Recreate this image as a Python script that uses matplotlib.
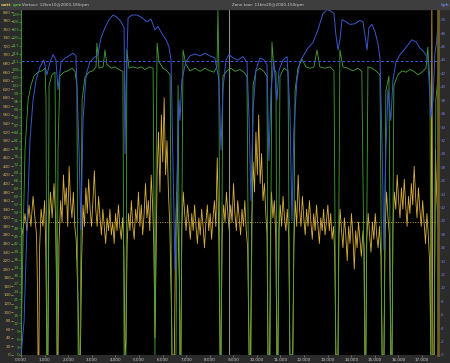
import matplotlib
matplotlib.use('Agg')
import matplotlib.pyplot as plt
from matplotlib.patches import Rectangle

# (distance km, speed kph)
speed = [
    (0.00, 0), (0.13, 5), (0.25, 18.7), (0.38, 32), (0.51, 38), (0.64, 41), (0.81, 43), (0.97, 44), (1.10, 41.8), (1.23, 43.7),
    (1.36, 44.8), (1.48, 44), (1.57, 39.6), (1.70, 43.7), (1.87, 44.3), (2.03, 44.6), (2.20, 45), (2.33, 44.6), (2.46, 30.6), (2.54, 18.7),
    (2.63, 35), (2.76, 41.8), (2.92, 43.7), (3.09, 44.3), (3.26, 44.8), (3.39, 47.3), (3.56, 48.8), (3.73, 50), (3.90, 50.7), (4.07, 50.4),
    (4.24, 49.7), (4.37, 48.8), (4.41, 30), (4.45, 40), (4.54, 50.3), (4.71, 50.7), (4.92, 50.7), (5.13, 50.3), (5.34, 49.7), (5.51, 50.1),
    (5.68, 48.5), (5.81, 49), (5.98, 47.9), (6.15, 47), (6.27, 46), (6.36, 44), (6.44, 29.1), (6.53, 12.7), (6.61, 26), (6.70, 38),
    (6.74, 35), (6.82, 41), (6.99, 43.7), (7.16, 44.6), (7.38, 44.9), (7.59, 44.6), (7.80, 45), (8.01, 44.6), (8.22, 44.3), (8.39, 41),
    (8.48, 30.6), (8.56, 39.6), (8.69, 44), (8.82, 44.8), (8.99, 44.3), (9.20, 44), (9.41, 44.5), (9.58, 43.7), (9.67, 35), (9.75, 23),
    (9.84, 36.6), (9.96, 42.5), (10.13, 44.3), (10.30, 44), (10.43, 43.3), (10.51, 29), (10.60, 39.6), (10.72, 43.7), (10.85, 38), (10.94, 42.5),
    (11.11, 44), (11.28, 44.5), (11.40, 36.6), (11.49, 20), (11.57, 33.6), (11.70, 41), (11.83, 43.7), (12.00, 44.8), (12.17, 45.8), (12.38, 46.6),
    (12.59, 48.5), (12.80, 50.9), (12.97, 51.5), (13.14, 51.3), (13.27, 50.9), (13.35, 47.8), (13.44, 45.5), (13.52, 47), (13.61, 50), (13.78, 49.7),
    (13.95, 49.3), (14.16, 49.4), (14.37, 49.9), (14.50, 49.7), (14.58, 47.8), (14.67, 45.5), (14.75, 48.8), (14.88, 49.3), (15.01, 48.2), (15.14, 46.3),
    (15.22, 44.3), (15.31, 30.6), (15.39, 15.7), (15.47, 30.6), (15.56, 39.6), (15.68, 35), (15.77, 41), (15.90, 43.7), (16.07, 44.8), (16.24, 45.5),
    (16.41, 46.3), (16.58, 47), (16.75, 46.7), (16.91, 45.8), (17.08, 45.2), (17.25, 44.3), (17.34, 38), (17.38, 35.4), (17.47, 38), (17.55, 45),
    (17.63, 47), (17.68, 49.5),
]

# (distance km, cadence rpm)
cadence = [
    (0.00, 0), (0.08, 40), (0.17, 77.6), (0.30, 96.5), (0.42, 102), (0.55, 105.5), (0.72, 107), (0.89, 107.5), (1.02, 108.5), (1.06, 96.5),
    (1.10, 0), (1.14, 0), (1.19, 102), (1.31, 106), (1.44, 107), (1.53, 0), (1.57, 77.6), (1.65, 105.5), (1.82, 107), (1.99, 107.5),
    (2.16, 108.5), (2.29, 107.3), (2.37, 102), (2.42, 0), (2.50, 0), (2.59, 96.5), (2.71, 105), (2.88, 107), (3.05, 107.5), (3.18, 109),
    (3.22, 118), (3.31, 108.5), (3.48, 109), (3.56, 115.4), (3.64, 110), (3.82, 108.5), (3.98, 109), (4.15, 108), (4.32, 107.3), (4.37, 0),
    (4.45, 0), (4.49, 115.4), (4.58, 108.5), (4.75, 109), (4.92, 108.5), (5.09, 109), (5.26, 108), (5.43, 109), (5.60, 108.5), (5.68, 0),
    (5.72, 58.6), (5.77, 118), (5.85, 111), (6.02, 108.5), (6.19, 107.5), (6.32, 106), (6.40, 0), (6.57, 0), (6.66, 102), (6.74, 0),
    (6.78, 0), (6.87, 115.4), (6.99, 110), (7.16, 107.5), (7.38, 108.5), (7.59, 107.3), (7.80, 108.5), (8.01, 107.5), (8.18, 107), (8.31, 109),
    (8.35, 130.5), (8.39, 109), (8.44, 0), (8.48, 0), (8.56, 105.5), (8.73, 107.5), (8.90, 108.5), (9.07, 107.3), (9.28, 108), (9.45, 107),
    (9.58, 105.5), (9.67, 0), (9.75, 0), (9.84, 102), (9.96, 107.5), (10.13, 108.5), (10.30, 107.3), (10.43, 105.5), (10.47, 0), (10.56, 0),
    (10.64, 118.4), (10.72, 108.5), (10.81, 107), (10.85, 0), (10.90, 0), (10.98, 105.5), (11.15, 108.5), (11.32, 107.5), (11.40, 0), (11.53, 0),
    (11.62, 100), (11.74, 108.5), (11.91, 112), (12.08, 109), (12.25, 108.5), (12.42, 109), (12.55, 115.4), (12.67, 109), (12.89, 108.5), (13.10, 109),
    (13.27, 107.5), (13.35, 0), (13.44, 0), (13.52, 115.4), (13.65, 109), (13.86, 108.5), (14.07, 107.5), (14.28, 108.5), (14.45, 107.3), (14.58, 0),
    (14.62, 0), (14.71, 109), (14.88, 108.5), (15.05, 107.5), (15.22, 106), (15.31, 0), (15.39, 0), (15.47, 100), (15.60, 105.5), (15.68, 0),
    (15.73, 0), (15.81, 102), (15.98, 106), (16.15, 107.5), (16.32, 107), (16.49, 108), (16.66, 107.3), (16.83, 106), (17.00, 107), (17.17, 108.5),
    (17.25, 116.5), (17.34, 102), (17.38, 0), (17.51, 0), (17.59, 96.5), (17.68, 105.5),
]

# (distance km, power watt)
power = [
    (0.00, 0), (0.04, 280), (0.10, 300), (0.17, 330), (0.25, 290), (0.34, 350), (0.42, 300), (0.51, 370), (0.59, 320), (0.66, 280),
    (0.70, 150), (0.72, 0), (0.76, 0), (0.79, 250), (0.85, 340), (0.93, 300), (1.00, 360), (1.05, 250), (1.10, 0), (1.14, 0),
    (1.18, 300), (1.25, 380), (1.32, 320), (1.40, 400), (1.46, 330), (1.51, 150), (1.53, 0), (1.57, 0), (1.61, 260), (1.68, 360),
    (1.74, 310), (1.80, 420), (1.86, 350), (1.92, 390), (1.98, 300), (2.04, 440), (2.10, 360), (2.16, 320), (2.22, 380), (2.28, 300),
    (2.34, 270), (2.42, 120), (2.46, 0), (2.52, 0), (2.57, 220), (2.63, 350), (2.69, 300), (2.75, 390), (2.81, 330), (2.87, 410),
    (2.93, 340), (2.99, 300), (3.05, 360), (3.11, 430), (3.17, 340), (3.23, 300), (3.29, 370), (3.35, 320), (3.41, 280), (3.47, 340),
    (3.53, 300), (3.59, 260), (3.65, 320), (3.71, 290), (3.77, 340), (3.83, 280), (3.89, 310), (3.95, 260), (4.01, 330), (4.07, 290),
    (4.13, 350), (4.19, 300), (4.25, 270), (4.31, 320), (4.36, 250), (4.41, 0), (4.45, 30), (4.50, 260), (4.56, 330), (4.62, 290),
    (4.68, 360), (4.74, 300), (4.80, 270), (4.86, 340), (4.92, 310), (4.98, 380), (5.04, 300), (5.10, 350), (5.16, 280), (5.22, 330),
    (5.28, 400), (5.34, 320), (5.40, 360), (5.46, 290), (5.52, 420), (5.58, 350), (5.63, 260), (5.68, 40), (5.72, 200), (5.77, 420),
    (5.83, 520), (5.89, 380), (5.95, 560), (6.01, 450), (6.07, 600), (6.13, 420), (6.19, 500), (6.25, 380), (6.31, 300), (6.38, 100),
    (6.40, 0), (6.50, 0), (6.55, 250), (6.60, 380), (6.66, 300), (6.72, 150), (6.74, 0), (6.78, 0), (6.82, 300), (6.88, 380),
    (6.94, 330), (7.00, 290), (7.06, 350), (7.12, 310), (7.18, 270), (7.24, 330), (7.30, 290), (7.36, 350), (7.42, 300), (7.48, 260),
    (7.54, 320), (7.60, 280), (7.66, 340), (7.72, 300), (7.78, 250), (7.84, 310), (7.90, 350), (7.96, 290), (8.02, 330), (8.08, 270),
    (8.14, 320), (8.20, 360), (8.26, 300), (8.32, 460), (8.38, 300), (8.44, 0), (8.48, 0), (8.53, 280), (8.59, 350), (8.65, 310),
    (8.71, 380), (8.77, 330), (8.83, 290), (8.89, 350), (8.95, 310), (9.01, 400), (9.07, 330), (9.13, 290), (9.19, 360), (9.25, 320),
    (9.31, 280), (9.37, 340), (9.43, 300), (9.49, 360), (9.55, 290), (9.61, 250), (9.67, 0), (9.73, 0), (9.78, 300), (9.84, 450),
    (9.90, 380), (9.96, 520), (10.02, 420), (10.08, 560), (10.14, 400), (10.20, 470), (10.26, 360), (10.32, 400), (10.38, 330), (10.43, 280),
    (10.47, 0), (10.54, 0), (10.58, 300), (10.62, 380), (10.68, 320), (10.74, 360), (10.80, 280), (10.85, 0), (10.89, 0), (10.94, 290),
    (10.99, 350), (11.05, 300), (11.11, 370), (11.17, 320), (11.23, 290), (11.29, 340), (11.35, 280), (11.40, 0), (11.52, 0), (11.57, 260),
    (11.63, 360), (11.69, 300), (11.75, 420), (11.81, 340), (11.87, 300), (11.93, 370), (11.99, 320), (12.05, 280), (12.11, 340), (12.17, 300),
    (12.23, 360), (12.29, 310), (12.35, 270), (12.41, 330), (12.47, 290), (12.53, 350), (12.59, 300), (12.65, 260), (12.71, 320), (12.77, 290),
    (12.83, 340), (12.89, 280), (12.95, 310), (13.01, 350), (13.07, 290), (13.13, 330), (13.19, 270), (13.25, 300), (13.30, 240), (13.35, 0),
    (13.44, 0), (13.48, 280), (13.53, 340), (13.59, 290), (13.65, 250), (13.71, 320), (13.77, 280), (13.83, 220), (13.89, 300), (13.95, 260),
    (14.01, 330), (14.07, 280), (14.13, 200), (14.19, 290), (14.25, 250), (14.31, 310), (14.37, 270), (14.43, 230), (14.50, 290), (14.55, 250),
    (14.58, 0), (14.62, 0), (14.66, 270), (14.72, 330), (14.78, 280), (14.84, 240), (14.90, 310), (14.96, 270), (15.02, 330), (15.08, 280),
    (15.14, 250), (15.20, 300), (15.26, 230), (15.31, 0), (15.39, 0), (15.44, 300), (15.50, 380), (15.56, 320), (15.62, 280), (15.68, 0),
    (15.73, 0), (15.77, 300), (15.83, 380), (15.89, 340), (15.95, 420), (16.01, 360), (16.07, 320), (16.13, 390), (16.19, 340), (16.25, 410),
    (16.31, 350), (16.37, 300), (16.43, 370), (16.49, 330), (16.55, 400), (16.61, 350), (16.67, 440), (16.73, 370), (16.79, 320), (16.85, 390),
    (16.91, 340), (16.97, 300), (17.03, 360), (17.09, 310), (17.15, 260), (17.21, 330), (17.27, 280), (17.32, 220), (17.38, 0), (17.42, 805),
    (17.46, 0), (17.52, 0), (17.57, 480), (17.62, 380), (17.68, 300),
]

watt_ticks = list(range(0, 801, 20))
rpm_ticks = list(range(0, 130, 3))
kph_ticks = list(range(0, 51, 2))
dist_ticks = list(range(0, 18))
dist_labels = ['%d.000' % k for k in dist_ticks]

avg_speed = 43.9
avg_power = 310
marker_km = 8.83
header_left = 'Vortour: 12km10@2000-185rpm'
header_mid = 'Zone tour: 11km20@2000-150rpm'

YELLOW = '#d8b03a'
GREEN = '#46a236'
BLUE = '#3a58cc'

W, H = 450, 363
fig = plt.figure(figsize=(W / 100, H / 100), dpi=100, facecolor='#2b2b2b')
fig.patches.append(Rectangle((0, 1 - 9 / H), 1, 9 / H, transform=fig.transFigure,
                             color='#3e3e3e', zorder=0))

ax = fig.add_axes([21 / W, 8 / H, 417 / W, 346 / H])
ax.set_facecolor('black')
ax_rpm = ax.twinx()
ax_kph = ax.twinx()

pk, pw = zip(*power)
ck, cr = zip(*cadence)
sk, sv = zip(*speed)

ax.plot(pk, pw, color=YELLOW, lw=0.6, zorder=3)
ax.axhline(avg_power, color='#c8a030', lw=0.7, ls=(0, (1, 1.5)), zorder=2)
ax.axvline(marker_km, color='#8c8c8c', lw=0.8, zorder=4)
ax_rpm.plot(ck, cr, color=GREEN, lw=0.6)
ax_kph.plot(sk, sv, color=BLUE, lw=0.7)
ax_kph.axhline(avg_speed, color=BLUE, lw=0.7, ls=(0, (3, 2)))

ax.set_xlim(0, 17.68)
ax.set_ylim(0, 807)
ax_rpm.set_ylim(0, 130.9)
ax_kph.set_ylim(0, 51.6)

# watt axis (outermost left)
ax.set_yticks(watt_ticks)
ax.spines['left'].set_position(('outward', 5.5))
for s in ['left', 'right', 'top', 'bottom']:
    ax.spines[s].set_color('none')
ax.tick_params(axis='y', direction='out', length=1.4, width=0.5, color='#c8b060',
               labelsize=3, labelcolor='#c8b060', pad=0.4)
ax.set_xticks(dist_ticks)
ax.set_xticklabels(dist_labels)
ax.tick_params(axis='x', direction='out', length=1.2, width=0.5, color='#888888',
               labelsize=3, labelcolor='#d0d0d0', pad=0.8)

# rpm axis (inner left)
ax_rpm.yaxis.tick_left()
ax_rpm.set_yticks(rpm_ticks)
for s in ['left', 'right', 'top', 'bottom']:
    ax_rpm.spines[s].set_color('none')
ax_rpm.spines['left'].set_color('#3f8f33')
ax_rpm.spines['left'].set_linewidth(0.8)
ax_rpm.tick_params(axis='y', direction='out', length=1.2, width=0.5, color='#4a9a3a',
                   labelsize=3, labelcolor='#5cb040', pad=0.3)

# kph axis (right)
ax_kph.set_yticks(kph_ticks)
for s in ['left', 'right', 'top', 'bottom']:
    ax_kph.spines[s].set_color('none')
ax_kph.spines['right'].set_color('#6e5e22')
ax_kph.spines['right'].set_linewidth(2)
ax_kph.tick_params(axis='y', direction='out', length=1.4, width=0.5, color='#5066c0',
                   labelsize=3, labelcolor='#6a7ad0', pad=0.4)

# header
ty = 1 - 5 / H
fig.text(1 / W, ty, 'watt', color='#d8c060', fontsize=3, weight='bold', va='center')
fig.text(13 / W, ty, 'rpm', color='#5cb040', fontsize=3, weight='bold', va='center')
fig.text(22 / W, ty, header_left, color='#cfcfcf', fontsize=3, va='center')
fig.text(232 / W, ty, header_mid, color='#cfcfcf', fontsize=3, va='center')
fig.text(441 / W, ty, 'kph', color='#6a7ad0', fontsize=3, weight='bold', va='center')

fig.savefig('out.png', dpi=100, facecolor=fig.get_facecolor())
